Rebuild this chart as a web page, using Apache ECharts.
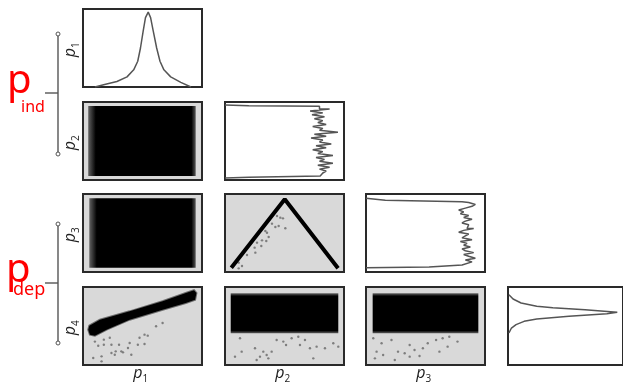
<!DOCTYPE html>
<html><head><meta charset="utf-8">
<script src="https://cdn.jsdelivr.net/npm/echarts@6/dist/echarts.min.js"></script>
<style>html,body{margin:0;padding:0;background:#fff}#c{width:623px;height:388px}</style>
</head><body><div id="c"></div>
<script>
// ---------- DATA (all values in panel units 0..1) ----------
const paramNames = ['1', '2', '3', '4'];
const groupNames = ['ind', 'dep'];

// p1 marginal density (x = p1, y = density)
const p1Value   = [0.10, 0.19, 0.285, 0.37, 0.426, 0.46, 0.483, 0.506, 0.525, 0.548, 0.568, 0.59, 0.619, 0.647, 0.68, 0.737, 0.822, 0.907];
const p1Density = [0.00, 0.035, 0.07, 0.13, 0.22, 0.33, 0.50, 0.72, 0.89, 0.96, 0.89, 0.72, 0.50, 0.33, 0.22, 0.13, 0.06, 0.00];

// p2 marginal histogram, drawn sideways (density on x, p2 on y), bins top -> bottom
const p2BinRange = [0.935, 0.065];
const p2Hist = [0.794, 0.879, 0.715, 0.822, 0.731, 0.836, 0.751, 0.822, 0.78, 0.85, 0.737, 0.822, 0.794, 0.949, 0.751, 0.85, 0.723, 0.822, 0.794, 0.893, 0.765, 0.85, 0.737, 0.822, 0.78, 0.907, 0.765, 0.836, 0.794, 0.907, 0.78, 0.879, 0.794, 0.85, 0.822];
const p2EdgeTop    = [[0, 0.962], [0.2, 0.952], [0.794, 0.944]];
const p2EdgeBottom = [[0.8, 0.052], [0.2, 0.035], [0, 0.026]];

// p3 marginal histogram, sideways
const p3BinRange = [0.89, 0.106];
const p3Hist = [0.863, 0.919, 0.891, 0.835, 0.779, 0.821, 0.793, 0.863, 0.821, 0.891, 0.835, 0.807, 0.863, 0.849, 0.905, 0.821, 0.779, 0.863, 0.835, 0.807, 0.891, 0.793, 0.849, 0.821, 0.877, 0.807, 0.835, 0.905, 0.821, 0.863, 0.919, 0.835, 0.891];
const p3EdgeTop    = [[0, 0.945], [0.162, 0.919], [0.807, 0.901]];
const p3EdgeBottom = [[0.807, 0.09], [0.53, 0.064], [0, 0.055]];

// p4 marginal density, sideways (x = density, y = p4)
const p4Value   = [0.90, 0.846, 0.795, 0.753, 0.735, 0.709, 0.68, 0.676, 0.658, 0.624, 0.59, 0.56, 0.517, 0.474, 0.41];
const p4Density = [0.008, 0.044, 0.114, 0.25, 0.39, 0.67, 0.92, 0.95, 0.86, 0.53, 0.25, 0.14, 0.07, 0.03, 0.008];

// dense sample clouds (outline vertices)
const cloudP1P2 = [[0.044, 0.05], [0.947, 0.05], [0.947, 0.95], [0.044, 0.95]];
const cloudP1P3 = [[0.053, 0.055], [0.947, 0.055], [0.947, 0.945], [0.053, 0.945]];
const bandP1P4  = [[0.053, 0.504], [0.142, 0.581], [0.392, 0.688], [0.669, 0.817], [0.864, 0.923], [0.933, 0.958], [0.953, 0.923], [0.942, 0.837], [0.864, 0.795], [0.669, 0.709], [0.392, 0.581], [0.198, 0.453], [0.10, 0.376], [0.058, 0.388], [0.044, 0.453]];
const cloudP2P4 = [[0.048, 0.406], [0.952, 0.406], [0.952, 0.919], [0.048, 0.919]];
const cloudP3P4 = [[0.056, 0.406], [0.944, 0.406], [0.944, 0.919], [0.056, 0.919]];
const ridgeP2P3 = [[0.053, 0.055], [0.502, 0.932], [0.95, 0.047]];

// stray samples
const strayP1P4 = [[0.10, 0.30], [0.175, 0.325], [0.225, 0.35], [0.128, 0.247], [0.175, 0.26], [0.239, 0.26], [0.303, 0.26], [0.392, 0.282], [0.475, 0.35], [0.517, 0.389], [0.544, 0.376], [0.614, 0.496], [0.669, 0.538], [0.461, 0.26], [0.517, 0.269], [0.086, 0.09], [0.156, 0.111], [0.156, 0.047], [0.239, 0.154], [0.267, 0.132], [0.322, 0.175], [0.378, 0.218], [0.336, 0.162], [0.406, 0.132], [0.275, 0.175]];
const strayP2P3 = [[0.115, 0.12], [0.143, 0.077], [0.115, 0.047], [0.185, 0.218], [0.249, 0.312], [0.255, 0.248], [0.269, 0.376], [0.311, 0.406], [0.305, 0.333], [0.347, 0.397], [0.353, 0.504], [0.367, 0.449], [0.395, 0.62], [0.423, 0.577], [0.451, 0.59], [0.465, 0.697], [0.487, 0.688], [0.507, 0.56], [0.437, 0.718], [0.339, 0.526]];
const strayP2P4 = [[0.126, 0.342], [0.252, 0.214], [0.322, 0.171], [0.35, 0.128], [0.294, 0.107], [0.364, 0.085], [0.14, 0.171], [0.084, 0.107], [0.392, 0.171], [0.266, 0.064], [0.434, 0.32], [0.49, 0.30], [0.56, 0.342], [0.616, 0.363], [0.63, 0.256], [0.714, 0.214], [0.77, 0.235], [0.84, 0.214], [0.91, 0.278], [0.952, 0.235], [0.742, 0.085], [0.513, 0.256], [0.672, 0.32]];
const strayP3P4 = [[0.061, 0.342], [0.131, 0.278], [0.214, 0.32], [0.089, 0.171], [0.075, 0.085], [0.144, 0.128], [0.242, 0.064], [0.269, 0.171], [0.325, 0.15], [0.367, 0.107], [0.408, 0.192], [0.478, 0.214], [0.519, 0.278], [0.589, 0.32], [0.644, 0.342], [0.686, 0.235], [0.70, 0.363], [0.769, 0.30], [0.617, 0.171], [0.367, 0.256], [0.45, 0.115]];

// ---------- LAYOUT ----------
const colLeft = [83, 225, 366, 508];
const rowTop = [9, 102, 194, 287];
const PW = 119, PH = 78;
const panels = []; // [row, col]
for (let r = 0; r < 4; r++) for (let c = 0; c <= r; c++) panels.push([r, c]);
const gi = (r, c) => panels.findIndex(p => p[0] === r && p[1] === c);

const grids = panels.map(([r, c]) => ({
  left: colLeft[c], top: rowTop[r], width: PW, height: PH,
  show: true, backgroundColor: r === c ? '#ffffff' : '#d9d9d9',
  borderColor: '#2a2a2a', borderWidth: 2
}));
const xAxes = panels.map((p, i) => ({ type: 'value', gridIndex: i, min: 0, max: 1, show: false }));
const yAxes = panels.map((p, i) => ({ type: 'value', gridIndex: i, min: 0, max: 1, show: false }));

const densLine = { color: '#555555', width: 1.5 };
function lineSeries(idx, data, style) {
  return { type: 'line', xAxisIndex: idx, yAxisIndex: idx, data, showSymbol: false, symbol: 'none',
    lineStyle: style, silent: true, animation: false, clip: true };
}
function histData(range, dens, head, tail) {
  const n = dens.length, h = (range[0] - range[1]) / n;
  const pts = head.slice();
  for (let i = 0; i < n; i++) {
    const yt = range[0] - i * h;
    pts.push([dens[i], yt], [dens[i], yt - h]);
  }
  return pts.concat(tail);
}
function polySeries(idx, verts, fill, stroke) {
  return { type: 'custom', xAxisIndex: idx, yAxisIndex: idx, data: verts, silent: true, animation: false, clip: true,
    renderItem: (params, api) => {
      if (params.dataIndex !== 0) return null;
      return { type: 'polygon', shape: { points: verts.map(v => api.coord(v)) },
        style: { fill, stroke: stroke || null, lineWidth: stroke ? 2 : 0 } };
    } };
}
function strays(idx, data) {
  return { type: 'scatter', xAxisIndex: idx, yAxisIndex: idx, data, symbol: 'circle', symbolSize: 2.4,
    itemStyle: { color: '#666' }, silent: true, animation: false };
}
const hFuzz = (a, b) => ({ type: 'linear', x: 0, y: 0, x2: 1, y2: 0, colorStops: [
  { offset: 0, color: 'rgba(0,0,0,0.55)' }, { offset: a, color: '#000' },
  { offset: b, color: '#000' }, { offset: 1, color: 'rgba(0,0,0,0.6)' }] });
const vFuzz = (a, b) => ({ type: 'linear', x: 0, y: 0, x2: 0, y2: 1, colorStops: [
  { offset: 0, color: 'rgba(0,0,0,0.55)' }, { offset: a, color: '#000' },
  { offset: b, color: '#000' }, { offset: 1, color: 'rgba(0,0,0,0.55)' }] });

const series = [
  lineSeries(gi(0, 0), p1Value.map((v, i) => [v, p1Density[i]]), densLine),
  polySeries(gi(1, 0), cloudP1P2, hFuzz(0.07, 0.96)),
  lineSeries(gi(1, 1), histData(p2BinRange, p2Hist, p2EdgeTop, p2EdgeBottom), densLine),
  polySeries(gi(2, 0), cloudP1P3, hFuzz(0.07, 0.96)),
  strays(gi(2, 1), strayP2P3),
  lineSeries(gi(2, 1), ridgeP2P3, { color: '#000', width: 4 }),
  lineSeries(gi(2, 2), histData(p3BinRange, p3Hist, p3EdgeTop, p3EdgeBottom), densLine),
  strays(gi(3, 0), strayP1P4),
  polySeries(gi(3, 0), bandP1P4, '#000', 'rgba(0,0,0,0.5)'),
  strays(gi(3, 1), strayP2P4),
  polySeries(gi(3, 1), cloudP2P4, vFuzz(0.07, 0.93)),
  strays(gi(3, 2), strayP3P4),
  polySeries(gi(3, 2), cloudP3P4, vFuzz(0.07, 0.93)),
  lineSeries(gi(3, 3), p4Value.map((v, i) => [p4Density[i], v]), densLine)
];

// ---------- TEXT / ANNOTATIONS ----------
const labelFont = 'italic 16px "Open Sans"';
function pLabel(cx, cy, sub, rotated) {
  return { type: 'group', x: cx, y: cy, rotation: rotated ? Math.PI / 2 : 0, silent: true, children: [
    { type: 'text', x: 1, y: 0, style: { text: 'p', font: labelFont, fill: '#222', textAlign: 'right', align: 'right', textVerticalAlign: 'middle', verticalAlign: 'middle' } },
    { type: 'text', x: 1, y: 6, style: { text: sub, font: '10px "Open Sans"', fill: '#222', textAlign: 'left', align: 'left', textVerticalAlign: 'middle', verticalAlign: 'middle' } }
  ] };
}
const graphics = [];
for (let r = 0; r < 4; r++) graphics.push(pLabel(70, rowTop[r] + PH / 2 + 1, paramNames[r], true));
for (let c = 0; c < 3; c++) graphics.push(pLabel(colLeft[c] + PW / 2 - 1, 373, paramNames[c], false));

const bracketColor = '#555';
function bracket(y0, y1, ym) {
  return [
    { type: 'line', shape: { x1: 58, y1: y0, x2: 58, y2: y1 }, style: { stroke: bracketColor, lineWidth: 1.4 }, silent: true },
    { type: 'line', shape: { x1: 45, y1: ym, x2: 58, y2: ym }, style: { stroke: bracketColor, lineWidth: 1.4 }, silent: true },
    { type: 'circle', shape: { cx: 58, cy: y0, r: 2 }, style: { stroke: bracketColor, fill: '#fff', lineWidth: 1 }, silent: true },
    { type: 'circle', shape: { cx: 58, cy: y1, r: 2 }, style: { stroke: bracketColor, fill: '#fff', lineWidth: 1 }, silent: true }
  ];
}
graphics.push(...bracket(34, 154, 93), ...bracket(224, 343, 283));
function groupLabel(px, py, sx, sy, sub, subSize) {
  return [
    { type: 'text', x: px, y: py, style: { text: 'p', font: '40px "Noto Sans"', fill: '#ff0000', textAlign: 'left', align: 'left', textVerticalAlign: 'middle', verticalAlign: 'middle' }, silent: true },
    { type: 'text', x: sx, y: sy, style: { text: sub, font: subSize + 'px "Noto Sans"', fill: '#ff0000', textAlign: 'left', align: 'left', textVerticalAlign: 'middle', verticalAlign: 'middle' }, silent: true }
  ];
}
graphics.push(...groupLabel(7, 82, 21, 107, groupNames[0], 16), ...groupLabel(6, 271, 13, 290, groupNames[1], 18));

const chart = echarts.init(document.getElementById('c'), null, { renderer: 'canvas' });
chart.setOption({
  animation: false,
  backgroundColor: '#ffffff',
  grid: grids, xAxis: xAxes, yAxis: yAxes,
  series,
  graphic: { elements: graphics }
});
</script>
</body></html>
